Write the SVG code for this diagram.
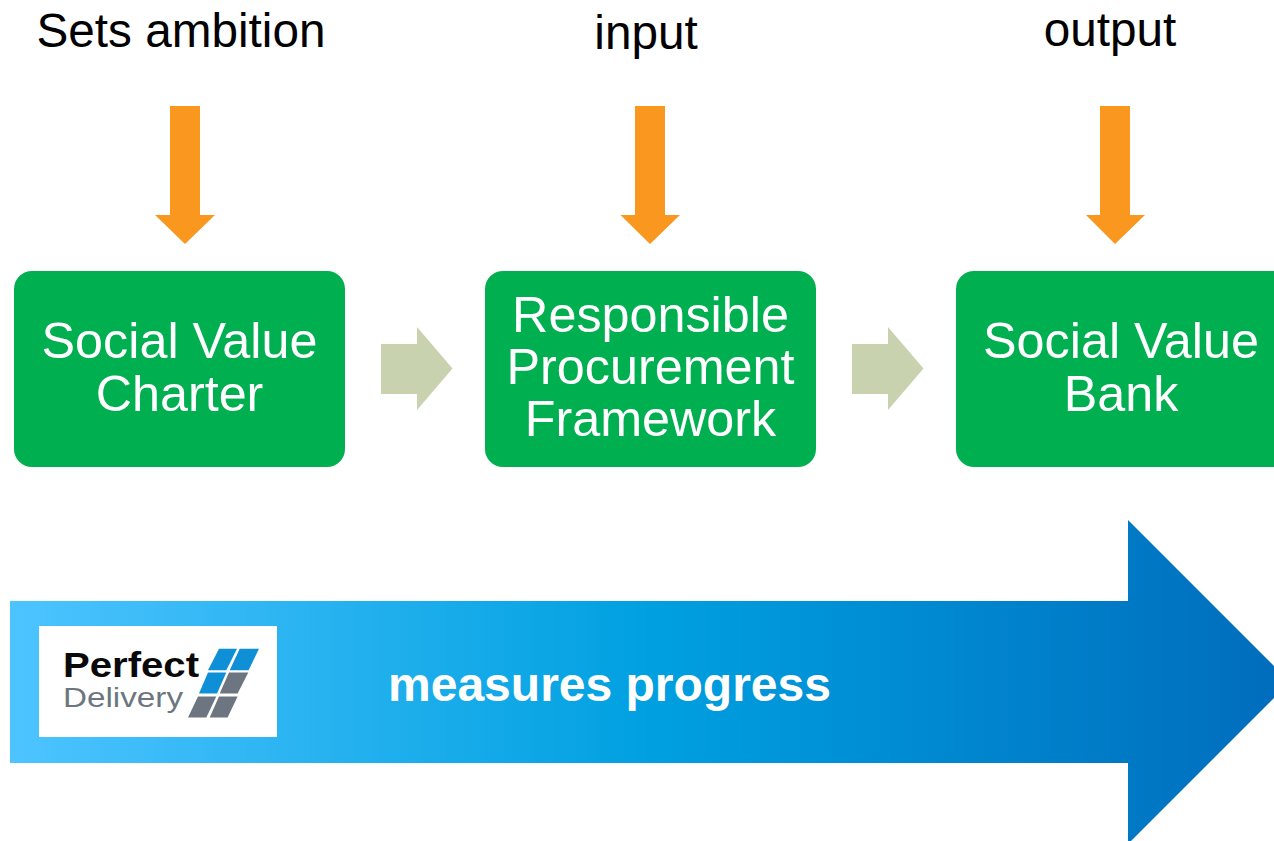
<svg xmlns="http://www.w3.org/2000/svg" width="1274" height="841" viewBox="0 0 1274 841">
<style>
text{font-family:"Liberation Sans",Arial,sans-serif;text-anchor:middle}
.box{fill:#00b050}
.w{fill:#fff;font-size:50.3px}
.t{fill:#000;font-size:47.7px}
.o{fill:#f9971e}
.s{fill:#c9d2ae}
.lb{fill:#0f8fd6}
.lg{fill:#6d7680}
</style>
<defs>
<linearGradient id="g" gradientUnits="userSpaceOnUse" x1="10" y1="0" x2="1290" y2="0">
<stop offset="0" stop-color="#4dc4ff"/>
<stop offset="0.5" stop-color="#00a0e0"/>
<stop offset="1" stop-color="#006cbc"/>
</linearGradient>
</defs>
<rect width="1274" height="841" fill="#fff"/>
<g id="connectors">
<polygon class="o" points="170,106 200,106 200,215 215,215 185,244 155,215 170,215"/>
<polygon class="o" points="635,106 665,106 665,215 680,215 650,244 620.5,215 635,215"/>
<polygon class="o" points="1100,106 1130,106 1130,215 1145,215 1115,244 1086,215 1100,215"/>
<polygon class="s" points="381,344 417,344 417,327 452.500,368.500 417,410 417,394 381,394"/>
<polygon class="s" points="852,344 888,344 888,327 923.500,368.500 888,410 888,394 852,394"/>
</g>
<g id="label-sets"><text class="t" x="181" y="47">Sets ambition</text></g>
<g id="label-input"><text class="t" x="646" y="49">input</text></g>
<g id="label-output"><text class="t" x="1110" y="46">output</text></g>
<g id="node-charter">
<rect class="box" x="14" y="271" width="331" height="196" rx="18"/>
<text class="w" x="179.500" y="358">Social Value</text>
<text class="w" x="179.500" y="410.500">Charter</text>
</g>
<g id="node-framework">
<rect class="box" x="485" y="271" width="331" height="196" rx="18"/>
<text class="w" x="650.500" y="332">Responsible</text>
<text class="w" x="650.500" y="384">Procurement</text>
<text class="w" x="650.500" y="436">Framework</text>
</g>
<g id="node-bank">
<rect class="box" x="956" y="271" width="334" height="196" rx="18"/>
<text class="w" x="1121" y="358">Social Value</text>
<text class="w" x="1121" y="410.500">Bank</text>
</g>
<g id="progress-arrow">
<polygon fill="url(#g)" points="10,601 1128,601 1128,520 1290,682 1128,844 1128,763 10,763"/>
<text x="609.500" y="700.500" fill="#fff" font-size="48" font-weight="700">measures progress</text>
</g>
<g id="logo">
<rect x="39" y="626" width="238" height="111" fill="#fff"/>
<text x="63" y="676.500" font-size="35" font-weight="700" fill="#0a0a0a" style="text-anchor:start" textLength="136" lengthAdjust="spacingAndGlyphs">Perfect</text>
<text x="63" y="707" font-size="28" fill="#6d7680" style="text-anchor:start" textLength="120" lengthAdjust="spacingAndGlyphs">Delivery</text>
<polygon class="lb" points="219,648.700 237,648.700 226.300,670.300 208,670.300"/>
<polygon class="lb" points="239.700,648.700 259,648.700 248.600,670.300 229.700,670.300"/>
<polygon class="lb" points="208,672.400 226.300,672.400 217,693.600 199,693.600"/>
<polygon class="lg" points="229,672.400 248.300,672.400 237.600,693.600 219.700,693.600"/>
<polygon class="lg" points="198,696.400 216.300,696.400 206.300,717.600 188,717.600"/>
<polygon class="lg" points="219,696.400 237.600,696.400 227.600,717.600 209.700,717.600"/>
</g>
</svg>
